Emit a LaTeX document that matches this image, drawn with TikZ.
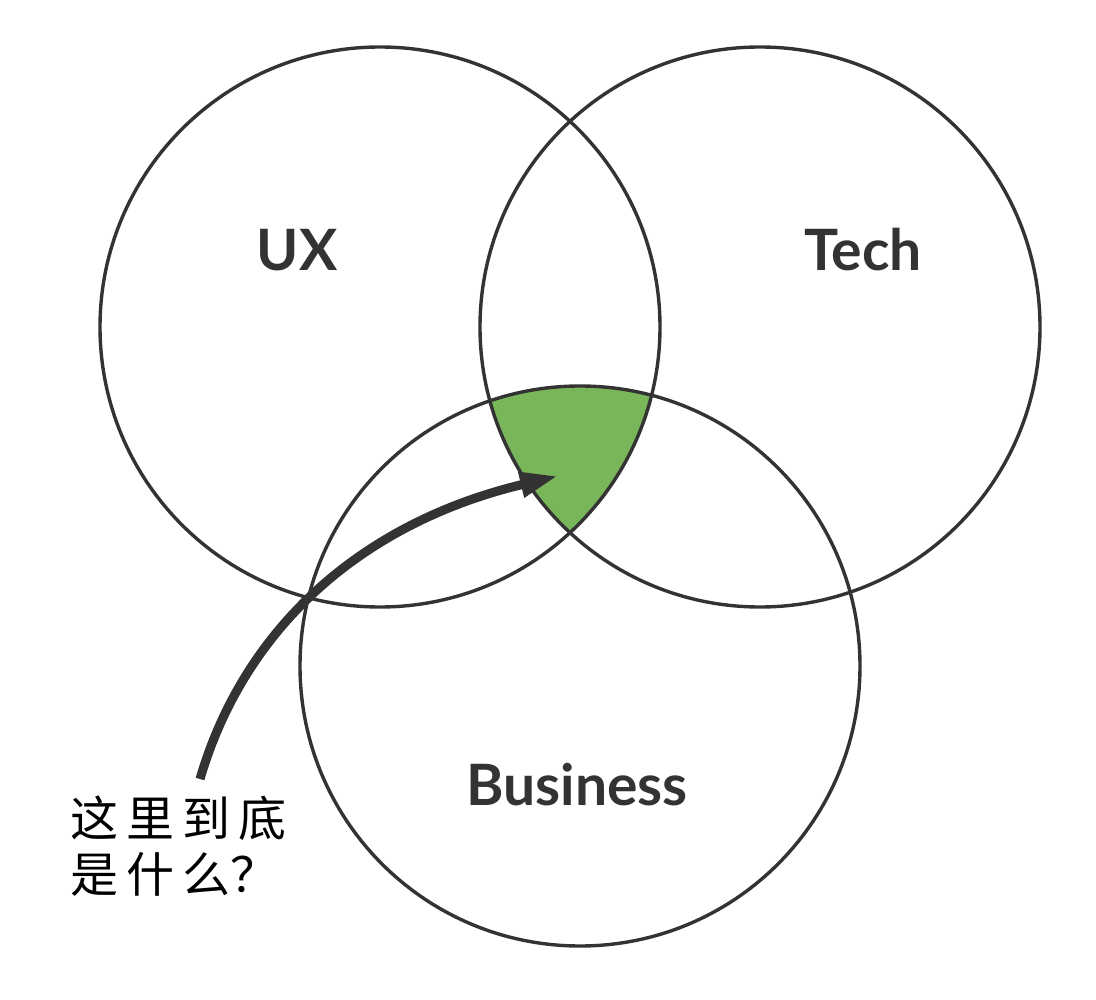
\documentclass[tikz,border=0pt]{standalone}
\usepackage{fontspec}
\setmainfont{Lato}
\newfontfamily\cjk{Noto Sans CJK SC}
\usetikzlibrary{arrows.meta}
\definecolor{ink}{HTML}{333333}
\definecolor{leaf}{RGB}{121,182,90}
\begin{document}
\begin{tikzpicture}[x=1pt,y=-1pt,
  ring/.style={circle,draw=ink,line width=3.4pt,minimum size=560pt,inner sep=0pt},
  lbl/.style={font=\fontsize{57}{57}\selectfont\bfseries,text=ink},
  note/.style={font=\cjk\fontsize{48}{56}\selectfont,align=left,anchor=north west,inner sep=0pt,text=black}]
\useasboundingbox (0,0) rectangle (1096,1000);
\fill[white] (0,0) rectangle (1096,1000);
% green intersection
\begin{scope}
  \clip (380,327) circle (280);
  \clip (760,327) circle (280);
  \fill[leaf] (580,666) circle (280);
\end{scope}
\node[ring] (ux) at (380,327) {};
\node[ring] (tech) at (760,327) {};
\node[ring] (biz) at (580,666) {};
\node[lbl] (uxl) at (297,250) {UX};
\node[lbl] (techl) at (863,250) {Tech};
\node[lbl] (bizl) at (577,785) {Business};
\node[note] (q) at (70,796) {这\,里\,到\,底\\是\,什\,么？};
\coordinate (s) at (200,779);
\coordinate (t) at (558,476);
\draw[ink,line width=9pt,-{Triangle[length=38pt,width=24pt]}]
  (s) .. controls (245,625) and (365,522) .. (t);
\end{tikzpicture}
\end{document}
